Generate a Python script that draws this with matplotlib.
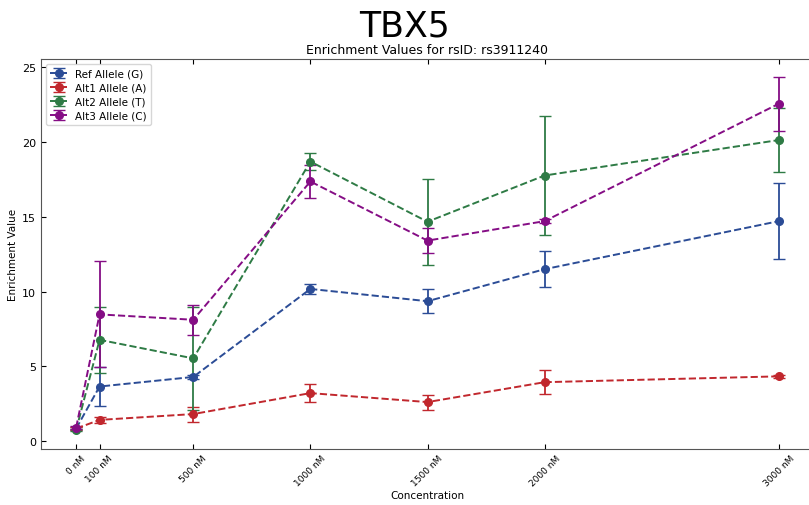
import matplotlib
matplotlib.use("Agg")
import matplotlib.pyplot as plt
import numpy as np

concentrations = [0, 100, 500, 1000, 1500, 2000, 3000]
tick_labels = ["0 nM", "100 nM", "500 nM", "1000 nM", "1500 nM", "2000 nM", "3000 nM"]

ref_vals = [0.85, 3.66, 4.30, 10.18, 9.36, 11.50, 14.71]
ref_err = [0.08, 1.33, 0.15, 0.32, 0.80, 1.20, 2.56]
alt1_vals = [0.85, 1.43, 1.82, 3.22, 2.62, 3.95, 4.34]
alt1_err = [0.08, 0.22, 0.50, 0.59, 0.50, 0.80, 0.12]
alt2_vals = [0.75, 6.78, 5.54, 18.69, 14.67, 17.76, 20.13]
alt2_err = [0.08, 2.19, 3.45, 0.55, 2.87, 3.98, 2.15]
alt3_vals = [0.92, 8.48, 8.12, 17.36, 13.41, 14.71, 22.56]
alt3_err = [0.08, 3.54, 1.02, 1.07, 0.85, 0.15, 1.80]

series = [
    ("Ref Allele (G)", ref_vals, ref_err, "#2B4C96"),
    ("Alt1 Allele (A)", alt1_vals, alt1_err, "#C1272D"),
    ("Alt2 Allele (T)", alt2_vals, alt2_err, "#2E7B45"),
    ("Alt3 Allele (C)", alt3_vals, alt3_err, "#850D85"),
]

fig = plt.figure(figsize=(8.09, 5.06), dpi=100)
ax = fig.add_axes([41 / 809, 56 / 506, 773 / 809, 390 / 506])

for label, vals, err, color in series:
    ax.errorbar(concentrations, vals, yerr=err, fmt="o--", color=color,
                ecolor=color, capsize=4, markersize=5.5, linewidth=1.4,
                elinewidth=1.3, label=label)

ax.set_xticks(concentrations)
ax.set_xticklabels(tick_labels, rotation=45, ha="center", fontsize=6.5)
ax.tick_params(axis="both", direction="in", top=True, right=True, labelsize=8)
ax.tick_params(axis="x", labelsize=6.5, pad=3)
ax.set_xlabel("Concentration", fontsize=7.5, labelpad=2)
ax.set_ylabel("Enrichment Value", fontsize=7.5, labelpad=3)
ax.set_title("Enrichment Values for rsID: rs3911240", fontsize=9, pad=4)
ax.set_yticks([0, 5, 10, 15, 20, 25])
for sp in ax.spines.values():
    sp.set_color("#555555")
ax.legend(loc="upper left", fontsize=7.5, handlelength=1.6, borderpad=0.4,
          labelspacing=0.4, framealpha=0.8)

fig.text(0.5, 0.948, "TBX5", ha="center", va="center", fontsize=25)

fig.savefig("out.png", dpi=100)
